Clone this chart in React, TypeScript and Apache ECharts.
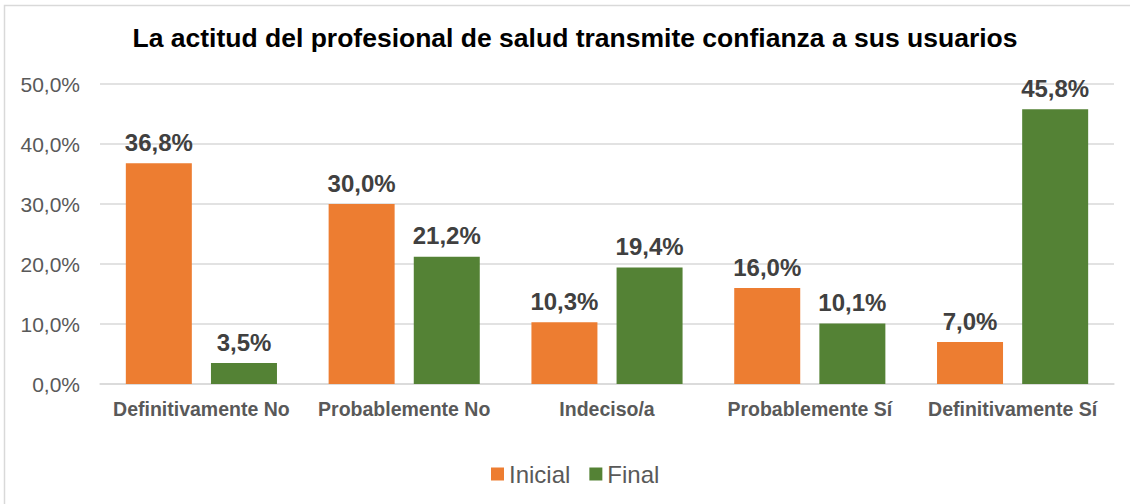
import React, { useEffect, useRef } from "react";
import * as echarts from "echarts";

const categories = [
  "Definitivamente No",
  "Probablemente No",
  "Indeciso/a",
  "Probablemente Sí",
  "Definitivamente Sí",
];
const inicial = [36.8, 30.0, 10.3, 16.0, 7.0];
const final = [3.5, 21.2, 19.4, 10.1, 45.8];
const seriesNames = ["Inicial", "Final"];
const titleText = "La actitud del profesional de salud transmite confianza a sus usuarios";

const fmt = (v: number) => v.toFixed(1).replace(".", ",") + "%";
const FONT = "Liberation Sans, Arial, sans-serif";

export default function App() {
  const ref = useRef<HTMLDivElement>(null);
  useEffect(() => {
    if (!ref.current) return;
    const chart = echarts.init(ref.current, null, { renderer: "svg" });
    const label = {
      show: true,
      position: "top" as const,
      distance: 9,
      formatter: (p: any) => fmt(p.value),
      color: "#404040",
      fontWeight: "bold" as const,
      fontSize: 24,
      fontFamily: FONT,
    };
    chart.setOption({
      animation: false,
      backgroundColor: "#ffffff",
      textStyle: { fontFamily: FONT },
      title: {
        text: titleText,
        left: 570,
        textAlign: "center",
        top: 19,
        textStyle: { fontSize: 26.5, fontWeight: "bold", color: "#000000", fontFamily: FONT },
      },
      graphic: [
        {
          type: "rect",
          shape: { x: 4.5, y: 5.5, width: 1140, height: 510 },
          style: { fill: "none", stroke: "#d9d9d9", lineWidth: 1.5 },
          silent: true,
        },
      ],
      legend: {
        data: seriesNames,
        top: 457,
        left: 486,
        itemWidth: 13,
        itemHeight: 13,
        itemGap: 19,
        icon: "rect",
        textStyle: { fontSize: 24, color: "#595959", fontFamily: FONT },
      },
      grid: { left: 100, right: 16, top: 84, bottom: 504 - 384, containLabel: false },
      xAxis: {
        type: "category",
        data: categories,
        axisTick: { show: false },
        axisLine: { show: true, lineStyle: { color: "#d9d9d9", width: 1.5 } },
        axisLabel: {
          color: "#595959",
          fontWeight: "bold",
          fontSize: 19.5,
          margin: 15,
          fontFamily: FONT,
          interval: 0,
        },
      },
      yAxis: {
        type: "value",
        min: 0,
        max: 50,
        interval: 10,
        axisLine: { show: false },
        axisTick: { show: false },
        splitLine: { lineStyle: { color: "#d9d9d9", width: 1.5 } },
        axisLabel: {
          formatter: (v: number) => fmt(v),
          color: "#595959",
          fontSize: 21,
          margin: 20,
          fontFamily: FONT,
        },
      },
      series: [
        {
          name: seriesNames[0],
          type: "bar",
          data: inicial,
          barWidth: 66,
          barGap: "29%",
          itemStyle: { color: "#ED7D31" },
          label,
        },
        {
          name: seriesNames[1],
          type: "bar",
          data: final,
          barWidth: 66,
          barGap: "29%",
          itemStyle: { color: "#548235" },
          label,
        },
      ],
    });
    return () => chart.dispose();
  }, []);
  return (
    <div
      ref={ref}
      style={{ position: "fixed", left: 0, top: 0, width: 1130, height: 504 }}
    />
  );
}
